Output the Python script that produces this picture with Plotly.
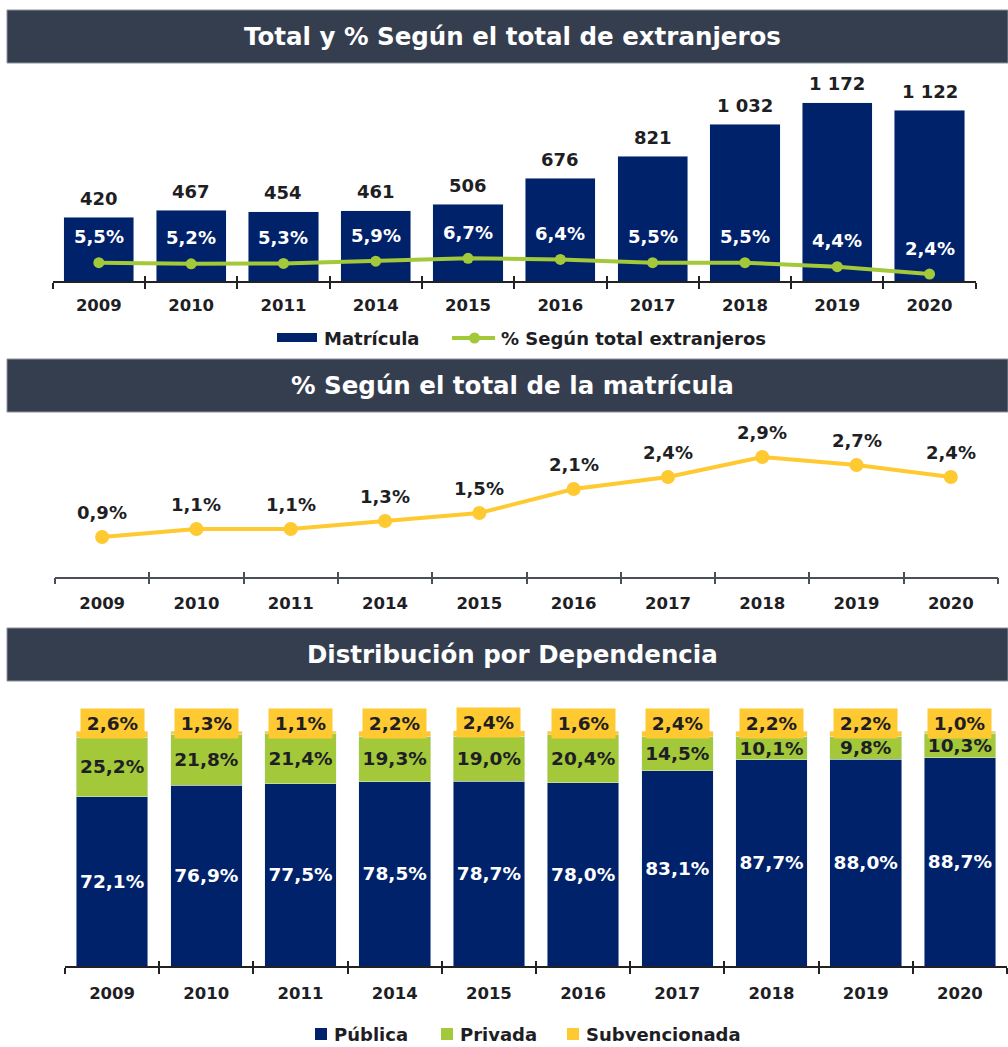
import plotly.graph_objects as go

years = ["2009", "2010", "2011", "2014", "2015", "2016", "2017", "2018", "2019", "2020"]
matricula = [420, 467, 454, 461, 506, 676, 821, 1032, 1172, 1122]
pct_extranjeros = [5.5, 5.2, 5.3, 5.9, 6.7, 6.4, 5.5, 5.5, 4.4, 2.4]
pct_matricula = [0.9, 1.1, 1.1, 1.3, 1.5, 2.1, 2.4, 2.9, 2.7, 2.4]
publica = [72.1, 76.9, 77.5, 78.5, 78.7, 78.0, 83.1, 87.7, 88.0, 88.7]
privada = [25.2, 21.8, 21.4, 19.3, 19.0, 20.4, 14.5, 10.1, 9.8, 10.3]
subvencionada = [2.6, 1.3, 1.1, 2.2, 2.4, 1.6, 2.4, 2.2, 2.2, 1.0]

titles = ["Total y % Según el total de extranjeros",
          "% Según el total de la matrícula",
          "Distribución por Dependencia"]

W, H = 1008, 1047
NAVY = "#00226b"
GREEN = "#a3c83a"
YELLOW = "#fec931"
HEADER = "#353e4f"
DARK = "#1e1e24"
FONT = "DejaVu Sans, Verdana, sans-serif"


def X(px):
    return px / W


def Y(py):
    return 1 - py / H


def fmt_int(v):
    return f"{v:,}".replace(",", " ")


def fmt_pct(v):
    return f"{v:.1f}%".replace(".", ",")


fig = go.Figure()

# Panel 1
fig.add_trace(go.Bar(x=years, y=matricula, marker_color=NAVY, xaxis="x", yaxis="y",
                     showlegend=False, hoverinfo="skip"))
fig.add_trace(go.Scatter(x=years, y=pct_extranjeros, mode="lines+markers", xaxis="x", yaxis="y2",
                         line=dict(color=GREEN, width=4), marker=dict(size=11, color=GREEN),
                         showlegend=False, hoverinfo="skip"))
# Panel 2
fig.add_trace(go.Scatter(x=years, y=pct_matricula, mode="lines+markers", xaxis="x2", yaxis="y3",
                         line=dict(color=YELLOW, width=4), marker=dict(size=14, color=YELLOW),
                         showlegend=False, hoverinfo="skip"))
# Panel 3
fig.add_trace(go.Bar(x=years, y=publica, marker_color=NAVY, xaxis="x3", yaxis="y4",
                     text=[fmt_pct(v) for v in publica], textposition="inside",
                     insidetextanchor="middle", constraintext="none", textangle=0,
                     textfont=dict(color="white", size=18.5, family=FONT, weight="bold"),
                     showlegend=False, hoverinfo="skip"))
fig.add_trace(go.Bar(x=years, y=privada, marker_color=GREEN, xaxis="x3", yaxis="y4",
                     text=[fmt_pct(v) for v in privada], textposition="inside",
                     insidetextanchor="middle", constraintext="none", textangle=0,
                     textfont=dict(color=DARK, size=18.5, family=FONT, weight="bold"),
                     showlegend=False, hoverinfo="skip"))
fig.add_trace(go.Bar(x=years, y=subvencionada, marker_color=YELLOW, xaxis="x3", yaxis="y4",
                     showlegend=False, hoverinfo="skip"))

# dummy traces for the overlay tick axes (inside half of the crossing ticks)
for xa, ya in (("x4", "y"), ("x5", "y3"), ("x6", "y4")):
    fig.add_trace(go.Scatter(x=years, y=[None] * len(years), mode="markers", xaxis=xa, yaxis=ya,
                             showlegend=False, hoverinfo="skip"))

tickfont = dict(family=FONT, size=16.5, color=DARK, weight="bold")


def xaxis_main(dom, anchor, linecolor, standoff):
    return dict(domain=dom, anchor=anchor, type="category", categoryorder="array",
                categoryarray=years, range=[-0.5, len(years) - 0.5], tickson="boundaries",
                ticks="outside", ticklen=6, tickwidth=1.5, tickcolor=linecolor,
                showline=True, linecolor=linecolor, linewidth=1.5, showgrid=False,
                tickfont=tickfont, ticklabelstandoff=standoff, fixedrange=True)


def xaxis_overlay(over, anchor, linecolor):
    return dict(overlaying=over, anchor=anchor, type="category", categoryorder="array",
                categoryarray=years, range=[-0.5, len(years) - 0.5], tickson="boundaries",
                ticks="inside", ticklen=5, tickwidth=1.5, tickcolor=linecolor,
                showline=False, showticklabels=False, showgrid=False, fixedrange=True)


hidden_y = dict(showgrid=False, zeroline=False, showticklabels=False, showline=False,
                ticks="", fixedrange=True)

d1x = [X(52.7), X(975.7)]
d1y = [Y(281), Y(70)]
d2x = [X(55), X(998)]
d2y = [Y(576.5), Y(420)]
d3x = [X(65), X(1007)]
d3y = [Y(966), Y(690)]

fig.update_layout(
    width=W, height=H, margin=dict(l=0, r=0, t=0, b=0),
    paper_bgcolor="white", plot_bgcolor="rgba(0,0,0,0)",
    barmode="stack", bargap=0.24,
    font=dict(family=FONT, color=DARK),
    xaxis=xaxis_main(d1x, "y", "#222222", 8),
    yaxis=dict(domain=d1y, anchor="x", range=[0, 211 / 0.152], **hidden_y),
    yaxis2=dict(overlaying="y", anchor="x", side="right", range=[0.5, 58.1], **hidden_y),
    xaxis2=xaxis_main(d2x, "y3", "#4a4f58", 11),
    yaxis3=dict(domain=d2y, anchor="x2", range=[-0.0875, 3.825], **hidden_y),
    xaxis3=xaxis_main(d3x, "y4", "#222222", 11),
    yaxis4=dict(domain=d3y, anchor="x3", range=[0, 276 / 2.35], **hidden_y),
    xaxis4=xaxis_overlay("x", "y", "#222222"),
    xaxis5=xaxis_overlay("x2", "y3", "#4a4f58"),
    xaxis6=xaxis_overlay("x3", "y4", "#222222"),
)

shapes = []
annotations = []

# header bars
for (top, bot, cy), title in zip(((10, 63, 36.5), (359, 412, 385.5), (628, 681, 654.5)), titles):
    shapes.append(dict(type="rect", xref="paper", yref="paper", x0=X(7), x1=X(1008),
                       y0=Y(bot), y1=Y(top), fillcolor=HEADER, line=dict(color="#8b929c", width=1),
                       layer="below"))
    annotations.append(dict(xref="paper", yref="paper", x=X(512), y=Y(cy), text=title,
                            showarrow=False, xanchor="center", yanchor="middle",
                            font=dict(family=FONT, size=24.5, color="white", weight="bold")))

lab_font = dict(family=FONT, size=18, color=DARK, weight="bold")

# panel 1 labels (x given as category index)
for i, (v, p) in enumerate(zip(matricula, pct_extranjeros)):
    annotations.append(dict(xref="x", yref="y", x=i, y=v, text=fmt_int(v), showarrow=False,
                            yanchor="middle", yshift=19, font=lab_font))
    annotations.append(dict(xref="x", yref="y2", x=i, y=p, text=fmt_pct(p), showarrow=False,
                            yanchor="middle", yshift=26,
                            font=dict(family=FONT, size=18, color="white", weight="bold")))

# panel 2 labels
for i, p in enumerate(pct_matricula):
    annotations.append(dict(xref="x2", yref="y3", x=i, y=p, text=fmt_pct(p), showarrow=False,
                            yanchor="middle", yshift=25, font=lab_font))

# panel 3 subvencionada labels
for i, (a, b, c) in enumerate(zip(publica, privada, subvencionada)):
    annotations.append(dict(xref="x3", yref="y4", x=i, y=a + b + c, text=fmt_pct(c), showarrow=False,
                            yanchor="middle", yshift=8, bgcolor=YELLOW, width=57, height=23,
                            borderpad=3, font=dict(family=FONT, size=18.5, color=DARK, weight="bold")))

leg_font = dict(family=FONT, size=18, color=DARK, weight="bold")

# panel 1 legend
shapes.append(dict(type="rect", xref="paper", yref="paper", x0=X(277), x1=X(317), y0=Y(342), y1=Y(333),
                   fillcolor=NAVY, line=dict(width=0)))
annotations.append(dict(xref="paper", yref="paper", x=X(322), y=Y(338), text="Matrícula",
                        showarrow=False, xanchor="left", yanchor="middle", font=leg_font))
shapes.append(dict(type="line", xref="paper", yref="paper", x0=X(452), x1=X(495), y0=Y(338), y1=Y(338),
                   line=dict(color=GREEN, width=4)))
shapes.append(dict(type="circle", xref="paper", yref="paper", x0=X(469), x1=X(480), y0=Y(343.5), y1=Y(332.5),
                   fillcolor=GREEN, line=dict(width=0)))
annotations.append(dict(xref="paper", yref="paper", x=X(499), y=Y(338), text="% Según total extranjeros",
                        showarrow=False, xanchor="left", yanchor="middle", font=leg_font))

# panel 3 legend
for x0, col, name in ((315, NAVY, "Pública"), (441, GREEN, "Privada"), (567, YELLOW, "Subvencionada")):
    shapes.append(dict(type="rect", xref="paper", yref="paper", x0=X(x0), x1=X(x0 + 12),
                       y0=Y(1040), y1=Y(1028), fillcolor=col, line=dict(width=0)))
    annotations.append(dict(xref="paper", yref="paper", x=X(x0 + 17), y=Y(1034), text=name,
                            showarrow=False, xanchor="left", yanchor="middle", font=leg_font))

fig.update_layout(shapes=shapes, annotations=annotations)

fig.write_html("out.html", config={"displayModeBar": False},
               post_script="document.body.style.margin='0px';")
